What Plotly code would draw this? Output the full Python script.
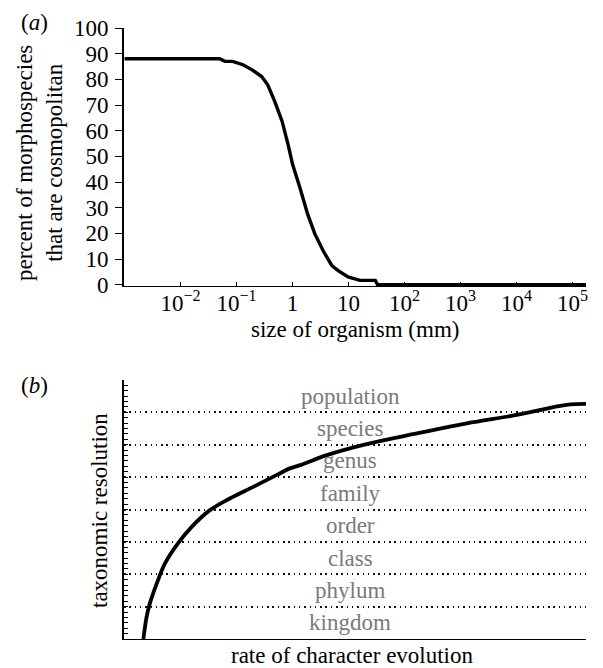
import plotly.graph_objects as go
import numpy as np

# ---- panel (a) data ----
size_mm = [0.001, 0.050, 0.062, 0.085, 0.13, 0.19, 0.28, 0.36, 0.48, 0.65, 0.83,
           1.0, 1.35, 1.86, 2.5, 3.5, 5.0, 6.5, 9.8, 16, 30, 33, 175000]
percent_cosmo = [88, 88, 87, 87, 85.7, 83.7, 81.1, 77.9, 71.4, 63.7, 54.7,
                 46.9, 37.9, 27.5, 19.8, 13.3, 7.5, 5.5, 3.0, 1.7, 1.7, 0, 0]
a_xtick_vals = [0.01, 0.1, 1, 10, 100, 1000, 10000, 100000]
a_xtick_text = ["10<sup>\u22122</sup>", "10<sup>\u22121</sup>", "1", "10",
                "10<sup>2</sup>", "10<sup>3</sup>", "10<sup>4</sup>", "10<sup>5</sup>"]
a_ytick_vals = [0, 10, 20, 30, 40, 50, 60, 70, 80, 90, 100]

# ---- panel (b) data ----
rate_evol = [0.042, 0.049, 0.056, 0.071, 0.089, 0.114, 0.147, 0.186, 0.229, 0.280,
             0.331, 0.359, 0.381, 0.439, 0.525, 0.634, 0.742, 0.850, 0.958, 1.0]
tax_resolution = [0.0, 0.69, 1.10, 1.72, 2.34, 2.90, 3.47, 3.98, 4.34, 4.70,
                  5.07, 5.27, 5.37, 5.68, 6.02, 6.35, 6.66, 6.92, 7.23, 7.26]
ranks = ["kingdom", "phylum", "class", "order", "family", "genus", "species", "population"]

FONT = "Liberation Serif"
FS = 23
W, H = 603, 668
OFF = 8  # page body margin offset

def px(x):
    return (x - OFF) / W

def py(y):
    return 1 - (y - OFF) / H

fig = go.Figure()

fig.add_trace(go.Scatter(x=size_mm, y=percent_cosmo, mode="lines",
                         line=dict(color="black", width=3.4),
                         xaxis="x", yaxis="y", showlegend=False))
fig.add_trace(go.Scatter(x=rate_evol, y=tax_resolution, mode="lines",
                         line=dict(color="black", width=3.8, shape="spline"),
                         xaxis="x2", yaxis="y2", showlegend=False))

axfont = dict(family=FONT, size=FS, color="black")

fig.update_layout(
    width=W, height=H,
    margin=dict(l=0, r=0, t=0, b=0, pad=0, autoexpand=False),
    paper_bgcolor="white", plot_bgcolor="white",
    font=axfont,
    xaxis=dict(type="log", domain=[px(124), px(586)], range=[-3.01, 5.24],
               anchor="y", showline=True, linecolor="black", linewidth=1.3,
               showgrid=False, zeroline=False, tickmode="array",
               tickvals=a_xtick_vals, ticktext=a_xtick_text,
               ticks="inside", ticklen=4, tickwidth=1, tickcolor="black",
               ticklabelstandoff=-4, tickfont=axfont, automargin=False),
    yaxis=dict(domain=[py(286), py(28)], range=[-0.5, 100], anchor="x",
               showline=True, linecolor="black", linewidth=1.6,
               showgrid=False, zeroline=False, tickmode="array",
               tickvals=a_ytick_vals, ticks="outside", ticklen=7, tickwidth=1.3,
               tickcolor="black", ticklabelstandoff=2, tickfont=axfont,
               automargin=False),
    xaxis2=dict(domain=[px(124), px(586)], range=[0, 1.0], anchor="y2",
                showline=True, linecolor="black", linewidth=1.3,
                showgrid=False, zeroline=False, showticklabels=False, ticks="",
                automargin=False),
    yaxis2=dict(domain=[py(639), py(380)], range=[0, 8], anchor="x2",
                showline=True, linecolor="black", linewidth=1.6,
                zeroline=False, showticklabels=False, automargin=False,
                tickmode="array", tickvals=list(range(1, 8)),
                ticks="inside", ticklen=4, tickwidth=1, tickcolor="black",
                showgrid=True, gridcolor="#111111", gridwidth=1.5,
                griddash="1.5px,3.8px",
                minor=dict(tickmode="array",
                           tickvals=list(np.arange(0, 8.001, 1 / 6)),
                           ticks="inside", ticklen=4, tickwidth=1,
                           tickcolor="black", showgrid=False)),
)

def ann(text, x, y, angle=0, font=axfont):
    return dict(text=text, x=px(x), y=py(y), xref="paper", yref="paper",
                xanchor="center", yanchor="middle", textangle=angle,
                showarrow=False, font=font)

annotations = [
    ann("(<i>a</i>)", 34, 22),
    ann("(<i>b</i>)", 34, 385),
    ann("percent of morphospecies<br>that are cosmopolitan", 40, 163, -90),
    ann("size of organism (mm)", 355, 329),
    ann("taxonomic resolution", 99, 511, -90),
    ann("rate of character evolution", 353, 655),
]
for i, name in enumerate(ranks):
    annotations.append(dict(text=name, x=0.49, y=i + 0.5, xref="x2 domain",
                            yref="y2", xanchor="center", yanchor="middle",
                            showarrow=False,
                            font=dict(family=FONT, size=FS, color="#7a7a7a")))
fig.update_layout(annotations=annotations)

fig.write_html("out.html")
